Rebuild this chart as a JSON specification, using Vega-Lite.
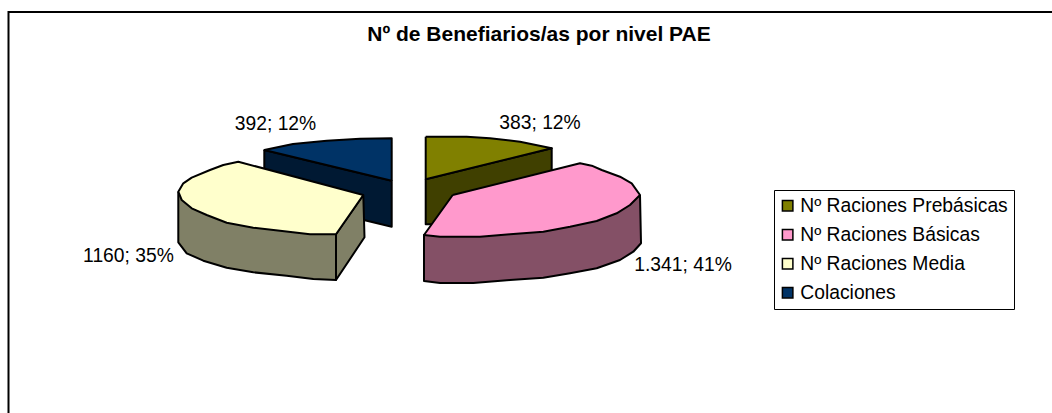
{"$schema":"https://vega.github.io/schema/vega-lite/v6.json","width":1052,"height":413,"autosize":{"type":"fit","contains":"padding"},"padding":0,"background":"white","config":{"view":{"stroke":null},"font":"Liberation Sans"},
"title":{"text":"Nº de Benefiarios/as por nivel PAE","orient":"top","anchor":"middle","offset":-45,"dx":13,"font":"Liberation Sans","fontSize":21,"fontWeight":"bold","color":"black"},
"datasets":{"marco":[{"x":8.5,"y":413,"o":0},{"x":8.5,"y":12,"o":1},{"x":1052,"y":12,"o":2}],
"formas":[
{"p":"c1","c":"Colaciones lateral","o":0,"x":264.3,"y":150},{"p":"c1","c":"Colaciones lateral","o":1,"x":391.7,"y":180.7},{"p":"c1","c":"Colaciones lateral","o":2,"x":391.7,"y":226.7},{"p":"c1","c":"Colaciones lateral","o":3,"x":264.3,"y":196},{"p":"c1","c":"Colaciones lateral","o":4,"x":264.3,"y":150},
{"p":"c2","c":"Colaciones","o":0,"x":391.7,"y":180.7},{"p":"c2","c":"Colaciones","o":1,"x":391.7,"y":138.3},{"p":"c2","c":"Colaciones","o":2,"x":360,"y":138.8},{"p":"c2","c":"Colaciones","o":3,"x":326.7,"y":140.7},{"p":"c2","c":"Colaciones","o":4,"x":293,"y":144},{"p":"c2","c":"Colaciones","o":5,"x":264.3,"y":150},{"p":"c2","c":"Colaciones","o":6,"x":391.7,"y":180.7},
{"p":"m1","c":"Media lateral","o":0,"x":178.3,"y":191.7},{"p":"m1","c":"Media lateral","o":1,"x":178.3,"y":242.3},{"p":"m1","c":"Media lateral","o":2,"x":186.7,"y":253.3},{"p":"m1","c":"Media lateral","o":3,"x":203.3,"y":260.7},{"p":"m1","c":"Media lateral","o":4,"x":226.7,"y":267.7},{"p":"m1","c":"Media lateral","o":5,"x":253.3,"y":272.3},{"p":"m1","c":"Media lateral","o":6,"x":286.7,"y":275.7},{"p":"m1","c":"Media lateral","o":7,"x":313.3,"y":279},{"p":"m1","c":"Media lateral","o":8,"x":336,"y":280},{"p":"m1","c":"Media lateral","o":9,"x":336,"y":234.3},{"p":"m1","c":"Media lateral","o":10,"x":178.3,"y":191.7},
{"p":"m2","c":"Media lateral","o":0,"x":336,"y":234.3},{"p":"m2","c":"Media lateral","o":1,"x":363.3,"y":195},{"p":"m2","c":"Media lateral","o":2,"x":364.5,"y":237.3},{"p":"m2","c":"Media lateral","o":3,"x":336,"y":280},{"p":"m2","c":"Media lateral","o":4,"x":336,"y":234.3},
{"p":"m3","c":"Media","o":0,"x":363.3,"y":195},{"p":"m3","c":"Media","o":1,"x":238.3,"y":161.7},{"p":"m3","c":"Media","o":2,"x":223.3,"y":165},{"p":"m3","c":"Media","o":3,"x":210,"y":170},{"p":"m3","c":"Media","o":4,"x":191.7,"y":177.7},{"p":"m3","c":"Media","o":5,"x":183.3,"y":183.3},{"p":"m3","c":"Media","o":6,"x":178.3,"y":191.7},{"p":"m3","c":"Media","o":7,"x":181.7,"y":200},{"p":"m3","c":"Media","o":8,"x":191.7,"y":208.3},{"p":"m3","c":"Media","o":9,"x":206.7,"y":215},{"p":"m3","c":"Media","o":10,"x":226.7,"y":222.7},{"p":"m3","c":"Media","o":11,"x":253.3,"y":227.7},{"p":"m3","c":"Media","o":12,"x":280,"y":230.7},{"p":"m3","c":"Media","o":13,"x":310,"y":234.3},{"p":"m3","c":"Media","o":14,"x":336,"y":234.3},{"p":"m3","c":"Media","o":15,"x":363.3,"y":195},
{"p":"r1","c":"Prebásicas lateral","o":0,"x":425.7,"y":179.3},{"p":"r1","c":"Prebásicas lateral","o":1,"x":551.7,"y":148.3},{"p":"r1","c":"Prebásicas lateral","o":2,"x":551.7,"y":172},{"p":"r1","c":"Prebásicas lateral","o":3,"x":432,"y":224.3},{"p":"r1","c":"Prebásicas lateral","o":4,"x":425.7,"y":224.3},{"p":"r1","c":"Prebásicas lateral","o":5,"x":425.7,"y":179.3},
{"p":"r2","c":"Prebásicas","o":0,"x":425.7,"y":136.7},{"p":"r2","c":"Prebásicas","o":1,"x":425.7,"y":179.3},{"p":"r2","c":"Prebásicas","o":2,"x":551.7,"y":148.3},{"p":"r2","c":"Prebásicas","o":3,"x":520,"y":141.7},{"p":"r2","c":"Prebásicas","o":4,"x":490,"y":138.3},{"p":"r2","c":"Prebásicas","o":5,"x":466.7,"y":136.7},{"p":"r2","c":"Prebásicas","o":6,"x":425.7,"y":136.7},
{"p":"b1","c":"Básicas lateral","o":0,"x":640,"y":195},{"p":"b1","c":"Básicas lateral","o":1,"x":641,"y":243.3},{"p":"b1","c":"Básicas lateral","o":2,"x":633.3,"y":251.7},{"p":"b1","c":"Básicas lateral","o":3,"x":620,"y":260},{"p":"b1","c":"Básicas lateral","o":4,"x":596.7,"y":268.3},{"p":"b1","c":"Básicas lateral","o":5,"x":570,"y":273.3},{"p":"b1","c":"Básicas lateral","o":6,"x":543.3,"y":277.7},{"p":"b1","c":"Básicas lateral","o":7,"x":510,"y":280},{"p":"b1","c":"Básicas lateral","o":8,"x":473.3,"y":283},{"p":"b1","c":"Básicas lateral","o":9,"x":440,"y":283},{"p":"b1","c":"Básicas lateral","o":10,"x":424,"y":281},{"p":"b1","c":"Básicas lateral","o":11,"x":424,"y":235},{"p":"b1","c":"Básicas lateral","o":12,"x":640,"y":195},
{"p":"b2","c":"Básicas","o":0,"x":452.7,"y":195},{"p":"b2","c":"Básicas","o":1,"x":580,"y":163.3},{"p":"b2","c":"Básicas","o":2,"x":591.7,"y":165.7},{"p":"b2","c":"Básicas","o":3,"x":601.7,"y":170},{"p":"b2","c":"Básicas","o":4,"x":620,"y":176.7},{"p":"b2","c":"Básicas","o":5,"x":631.7,"y":183.3},{"p":"b2","c":"Básicas","o":6,"x":640,"y":195},{"p":"b2","c":"Básicas","o":7,"x":630,"y":205},{"p":"b2","c":"Básicas","o":8,"x":616.7,"y":213.3},{"p":"b2","c":"Básicas","o":9,"x":596.7,"y":221},{"p":"b2","c":"Básicas","o":10,"x":570,"y":226.7},{"p":"b2","c":"Básicas","o":11,"x":543.3,"y":231.7},{"p":"b2","c":"Básicas","o":12,"x":510,"y":234.3},{"p":"b2","c":"Básicas","o":13,"x":480,"y":236.7},{"p":"b2","c":"Básicas","o":14,"x":440,"y":236.7},{"p":"b2","c":"Básicas","o":15,"x":424,"y":235},{"p":"b2","c":"Básicas","o":16,"x":452.7,"y":195}
],
"series":[{"serie":"Nº Raciones Prebásicas","valor":383,"texto":"383; 12%","x":540,"y":122.5},{"serie":"Nº Raciones Básicas","valor":1341,"texto":"1.341; 41%","x":683,"y":265},{"serie":"Nº Raciones Media","valor":1160,"texto":"1160; 35%","x":128.5,"y":255.7},{"serie":"Colaciones","valor":392,"texto":"392; 12%","x":275.5,"y":124}]},
"layer":[
{"data":{"name":"marco"},"mark":{"type":"line","stroke":"black","strokeWidth":2,"clip":true},"encoding":{"x":{"field":"x","type":"quantitative","scale":{"domain":[0,1052]},"axis":null},"y":{"field":"y","type":"quantitative","scale":{"domain":[413,0]},"axis":null},"order":{"field":"o","type":"ordinal"}}},
{"data":{"name":"formas"},"mark":{"type":"line","stroke":"black","strokeWidth":2,"strokeJoin":"round"},"encoding":{"x":{"field":"x","type":"quantitative","scale":{"domain":[0,1052]},"axis":null},"y":{"field":"y","type":"quantitative","scale":{"domain":[413,0]},"axis":null},"order":{"field":"o","type":"quantitative"},"detail":{"field":"p"},"fill":{"field":"c","type":"nominal","sort":null,"scale":{"domain":["Prebásicas","Básicas","Media","Colaciones","Prebásicas lateral","Básicas lateral","Media lateral","Colaciones lateral"],"range":["#808000","#FF99CC","#FFFFCC","#003366","#404000","#845066","#808066","#001933"]},"legend":null}}},
{"data":{"name":"series"},"mark":{"type":"text","font":"Liberation Sans","fontSize":19.3,"color":"black"},"encoding":{"x":{"field":"x","type":"quantitative","scale":{"domain":[0,1052]},"axis":null},"y":{"field":"y","type":"quantitative","scale":{"domain":[413,0]},"axis":null},"text":{"field":"texto"}}},
{"data":{"name":"series"},"mark":{"type":"point","shape":"square","filled":true,"opacity":0},"encoding":{"x":{"field":"x","type":"quantitative","scale":{"domain":[0,1052]},"axis":null},"y":{"field":"y","type":"quantitative","scale":{"domain":[413,0]},"axis":null},"color":{"field":"serie","type":"nominal","sort":null,"scale":{"domain":["Nº Raciones Prebásicas","Nº Raciones Básicas","Nº Raciones Media","Colaciones"],"range":["#808000","#FF99CC","#FFFFCC","#003366"]},"legend":{"orient":"none","legendX":774,"legendY":190,"title":null,"strokeColor":"black","padding":6,"symbolType":"square","symbolSize":110,"symbolOpacity":1,"symbolStrokeColor":"black","symbolStrokeWidth":1.5,"labelFont":"Liberation Sans","labelFontSize":19.3,"labelColor":"black","labelLimit":300,"rowPadding":9,"labelOffset":3,"symbolOffset":-2}}}}
]}
